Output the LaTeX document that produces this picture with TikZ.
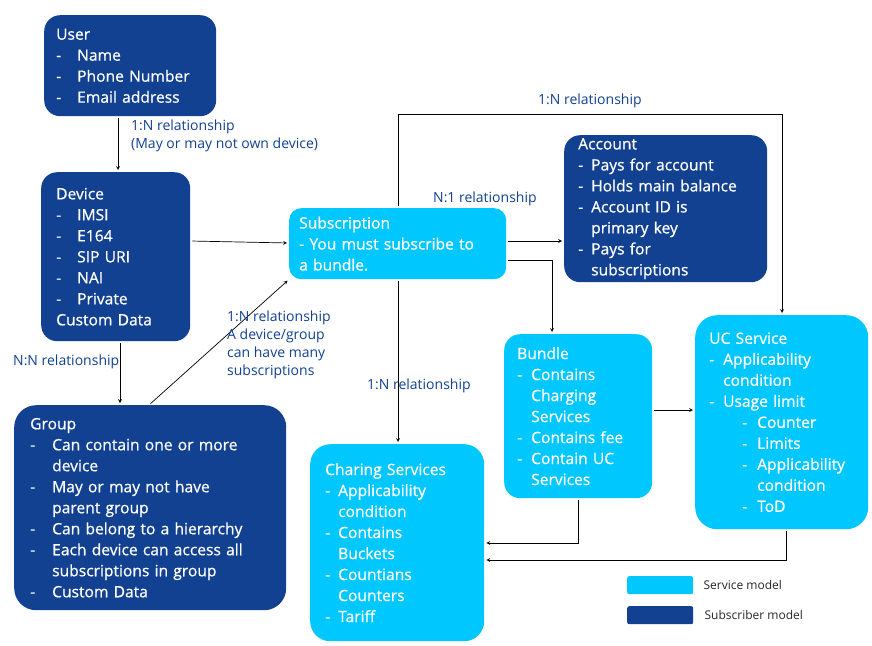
\documentclass[tikz,border=0pt]{standalone}
\usepackage{fontspec}
\setmainfont{Open Sans}
\newfontfamily\boxfont[FakeBold=0.7]{Open Sans}
\usetikzlibrary{positioning}
\definecolor{nokiadark}{HTML}{124191}
\definecolor{nokialight}{HTML}{00C8FF}
\newcommand{\dsh}[1][21pt]{\makebox[#1][l]{-}}

\begin{document}
\begin{tikzpicture}[x=1pt, y=-1pt, >=stealth,
	box/.style={anchor=north west, rounded corners=16pt, text=white, align=left, inner ysep=2pt, font=\boxfont\fontsize{15.6}{21}\selectfont},
	subbox/.style={box, fill=nokiadark},
	svcbox/.style={box, fill=nokialight},
	rel/.style={anchor=west, inner sep=0pt, align=left, text=nokiadark, font=\fontsize{14}{18}\selectfont},
	link/.style={->, line width=0.7pt, shorten >=2pt, shorten <=2pt},
	legend/.style={anchor=north west, minimum width=66pt, minimum height=18pt, rounded corners=2pt, inner sep=0pt}]
	
	\useasboundingbox (0,0) rectangle (872,645);
	
	% ==================== Subscriber model ====================
	\node[subbox, minimum width=172pt, minimum height=101pt, text width=148pt, inner xsep=12pt] (user) at (44,15)
		{User\\ \dsh Name\\ \dsh Phone Number\\ \dsh Email address};
	\node[subbox, minimum width=149pt, minimum height=169pt, text width=119pt, inner xsep=15pt] (device) at (41,172)
		{Device\\ \dsh IMSI\\ \dsh E164\\ \dsh SIP URI\\ \dsh NAI\\ \dsh Private\\ Custom Data};
	\node[subbox, rounded corners=22pt, minimum width=272pt, minimum height=205pt, text width=240pt, inner xsep=16pt] (group) at (14,405)
		{Group\\ \dsh[22pt]Can contain one or more\\ \hspace*{22pt}device\\ \dsh[22pt]May or may not have\\ \hspace*{22pt}parent group\\
		 \dsh[22pt]Can belong to a hierarchy\\ \dsh[22pt]Each device can access all\\ \hspace*{22pt}subscriptions in group\\ \dsh[22pt]Custom Data};
	\node[subbox, minimum width=203pt, minimum height=147pt, text width=175pt, inner xsep=14pt] (account) at (564,135)
		{Account\\ \dsh[13pt]Pays for account\\ \dsh[13pt]Holds main balance\\ \dsh[13pt]Account ID is\\ \hspace*{13pt}primary key\\
		 \dsh[13pt]Pays for\\ \hspace*{13pt}subscriptions};
	
	% ==================== Service model ====================
	\node[svcbox, rounded corners=12pt, minimum width=217pt, minimum height=71pt, text width=197pt, inner xsep=10pt] (sub) at (289,208)
		{Subscription\\ - You must subscribe to\\ a bundle.};
	\node[svcbox, minimum width=148pt, minimum height=164pt, text width=122pt, inner xsep=13pt] (bundle) at (504,334)
		{Bundle\\ \dsh[14pt]Contains\\ \hspace*{14pt}Charging\\ \hspace*{14pt}Services\\ \dsh[14pt]Contains fee\\ \dsh[14pt]Contain UC\\ \hspace*{14pt}Services};
	\node[svcbox, rounded corners=22pt, minimum width=173pt, minimum height=214pt, text width=145pt, inner xsep=14pt] (uc) at (695,315)
		{UC Service\\ \dsh[14pt]Applicability\\ \hspace*{14pt}condition\\ \dsh[14pt]Usage limit\\ \hspace*{33pt}\dsh[15pt]Counter\\
		 \hspace*{33pt}\dsh[15pt]Limits\\ \hspace*{33pt}\dsh[15pt]Applicability\\ \hspace*{48pt}condition\\ \hspace*{33pt}\dsh[15pt]ToD};
	\node[svcbox, rounded corners=20pt, minimum width=174pt, minimum height=197pt, text width=144pt, inner xsep=15pt] (charing) at (310,444)
		{Charing Services\\ \dsh[13pt]Applicability\\ \hspace*{13pt}condition\\ \dsh[13pt]Contains\\ \hspace*{13pt}Buckets\\
		 \dsh[13pt]Countians\\ \hspace*{13pt}Counters\\ \dsh[13pt]Tariff};
	
	% ==================== Connectors ====================
	\draw[link] (user.south -| 118,0) -- (device.north -| 118,0);
	\draw[link] (device.east |- 0,241) -- (sub.west |- 0,243);
	\draw[link] (device.south -| 120,0) -- (group.north -| 120,0);
	\draw[link] (group.north -| 149,0) -- (sub.south west);
	\draw[link] (sub.east |- 0,241) -- (account.west |- 0,241);
	\draw[link] (sub.east |- 0,260) -| (bundle.north -| 552,0);
	\draw[link] (sub.south -| 398,0) -- (charing.north -| 398,0);
	\draw[link] (sub.north -| 398,0) |- (782,114) -- (uc.north -| 782,0);
	\draw[link] (bundle.east |- 0,410) -- (uc.west |- 0,410);
	\draw[link] (bundle.south -| 578,0) |- (charing.east |- 0,543);
	\draw[link] (uc.south -| 786,0) |- (charing.east |- 0,560);
	
	% relationship labels
	\node[rel] (lbl-ud) at (131,136) {1:N relationship\\(May or may not own device)};
	\node[rel] (lbl-dg) at (13,362) {N:N relationship};
	\node[rel] (lbl-gs) at (227,345) {1:N relationship\\A device/group\\can have many\\subscriptions};
	\node[rel] (lbl-sa) at (433,199) {N:1 relationship};
	\node[rel] (lbl-sc) at (367,386) {1:N relationship};
	\node[rel] (lbl-su) at (538,101) {1:N relationship};
	
	% ==================== Legend ====================
	\node[legend, fill=nokialight] (svc) at (627,576) {};
	\node[legend, fill=nokiadark] (subsc) at (627,606) {};
	\node[right=10pt of svc, inner sep=0pt, font=\fontsize{12}{14}\selectfont, text=black!85] (svc-txt) {Service model};
	\node[right=11pt of subsc, inner sep=0pt, font=\fontsize{12}{14}\selectfont, text=black!85] (subsc-txt) {Subscriber model};
\end{tikzpicture}
\end{document}
